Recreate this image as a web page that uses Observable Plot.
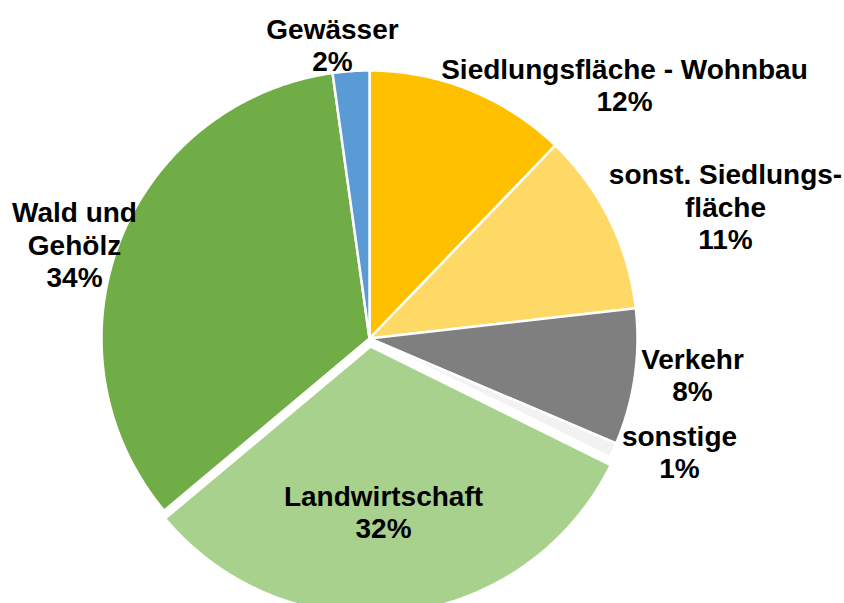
<!DOCTYPE html>
<html>
<head>
<meta charset="utf-8">
<script src="https://cdn.jsdelivr.net/npm/d3@7"></script>
<script src="https://cdn.jsdelivr.net/npm/@observablehq/plot@0.6"></script>
<style>
  html, body { margin: 0; padding: 0; background: #fff; overflow: hidden; }
  #chart { width: 844px; height: 603px; }
</style>
</head>
<body>
<div id="chart"></div>
<script>
// --- data ---
const categories = ["Siedlungsfläche - Wohnbau", "sonst. Siedlungsfläche", "Verkehr", "sonstige", "Landwirtschaft", "Wald und Gehölz", "Gewässer"];
const labelNames = ["Siedlungsfläche - Wohnbau", "sonst. Siedlungs-\nfläche", "Verkehr", "sonstige", "Landwirtschaft", "Wald und\nGehölz", "Gewässer"];
const values = [12.2, 11.0, 8.2, 0.9, 31.6, 33.9, 2.2];
const colors = ["#FFC000", "#FFD966", "#7F7F7F", "#F2F2F2", "#A9D18E", "#70AD47", "#5B9BD5"];

// --- layout ---
const W = 844, H = 603;
const cx = 369, cy = 338, R = 268;
const explode = [0, 0, 0, 0, 8, 0, 0];
// label block centres relative to pie centre (manual placement, as in the original)
const labelDx = [255, 356, 323, 310, 14, -295, -37];
const labelDy = [-254, -132, 36, 113, 173, -94, -294];

const total = d3.sum(values);
const slices = [];
let acc = 0;
values.forEach((v, i) => {
  const a0 = acc / total * 2 * Math.PI;
  acc += v;
  const a1 = acc / total * 2 * Math.PI;
  slices.push({name: categories[i], a0, a1, i});
});

// polygon outline points for each slice (geometry only)
const pts = [];
for (const s of slices) {
  const mid = (s.a0 + s.a1) / 2;
  const ox = explode[s.i] * Math.sin(mid), oy = -explode[s.i] * Math.cos(mid);
  pts.push({name: s.name, x: ox, y: oy});
  const n = Math.max(2, Math.ceil((s.a1 - s.a0) / (Math.PI / 360)));
  for (let k = 0; k <= n; k++) {
    const a = s.a0 + (s.a1 - s.a0) * k / n;
    pts.push({name: s.name, x: ox + R * Math.sin(a), y: oy - R * Math.cos(a)});
  }
}

const labels = categories.map((c, i) => ({
  text: labelNames[i] + "\n" + Math.round(values[i]) + "%",
  x: labelDx[i],
  y: labelDy[i]
}));

const plot = Plot.plot({
  width: W,
  height: H,
  margin: 0,
  x: {domain: [-cx, W - cx], range: [0, W], axis: null},
  y: {domain: [-cy, H - cy], range: [0, H], axis: null},
  color: {domain: categories, range: colors},
  style: {background: "white", fontFamily: "'Liberation Sans', Arial, sans-serif"},
  marks: [
    Plot.line(pts, {x: "x", y: "y", z: "name", fill: "name", stroke: "white", strokeWidth: 2.5, curve: "linear-closed", strokeLinejoin: "round"}),
    Plot.text(labels, {x: "x", y: "y", text: "text", fontSize: 28, fontWeight: "bold", lineHeight: 1.16, fill: "black", fontFamily: "'Liberation Sans', Arial, sans-serif"})
  ]
});
document.getElementById("chart").appendChild(plot);
</script>
</body>
</html>
